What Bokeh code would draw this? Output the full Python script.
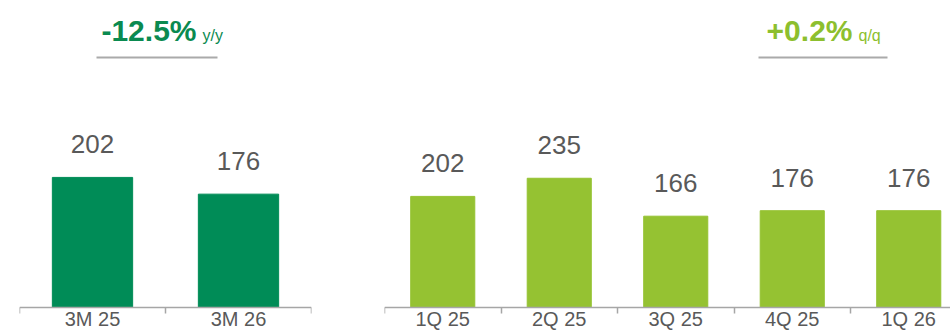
from bokeh.plotting import figure
from bokeh.layouts import row
from bokeh.models import Range1d, FixedTicker, LinearAxis, Label, BoxAnnotation, ColumnDataSource
from bokeh.embed import file_html
from bokeh.resources import INLINE
from bokeh.core.properties import value

# ---- data ----
ytd_labels = ["3M 25", "3M 26"]
ytd_values = [202, 176]
ytd_change = "-12.5%"
ytd_unit = "y/y"

q_labels = ["1Q 25", "2Q 25", "3Q 25", "4Q 25", "1Q 26"]
q_values = [202, 235, 166, 176, 176]
q_change = "+0.2%"
q_unit = "q/q"

DARK = "#008C57"
LIGHT = "#95C232"
GREY_TXT = "#595959"
AXIS_GREY = "#A6A6A6"
FONT = "Liberation Sans"
H = 332


def panel(labels, values, color, title_color, title, unit, width, bl, br, x_end,
          y_start, y_end, title_right, underline):
    n = len(labels)
    centers = [i + 0.5 for i in range(n)]
    bounds = [float(i) for i in range(n + 1)]
    p = figure(width=width, height=H, x_range=Range1d(0, x_end),
               y_range=Range1d(y_start, y_end),
               x_axis_type=None, y_axis_type=None, toolbar_location=None,
               output_backend="svg", min_border_left=bl, min_border_right=br,
               min_border_top=0, min_border_bottom=0)
    p.grid.visible = False
    p.outline_line_color = None
    p.background_fill_color = "white"
    p.border_fill_color = "white"

    ax = LinearAxis(ticker=FixedTicker(ticks=centers, minor_ticks=bounds), fixed_location=0)
    ax.major_label_overrides = {c: l for c, l in zip(centers, labels)}
    ax.major_tick_line_color = None
    ax.major_tick_out = 0
    ax.major_tick_in = 0
    ax.minor_tick_out = 6
    ax.minor_tick_in = 0
    ax.minor_tick_line_color = AXIS_GREY
    ax.minor_tick_line_width = 1.5
    ax.axis_line_color = AXIS_GREY
    ax.axis_line_width = 1.5
    ax.major_label_standoff = -6
    ax.major_label_text_font = FONT
    ax.major_label_text_font_size = "20px"
    ax.major_label_text_color = GREY_TXT
    p.add_layout(ax, "below")

    src = ColumnDataSource(dict(x=centers, top=values, label=[str(v) for v in values]))
    p.vbar(x="x", top="top", bottom=0, width=0.55, color=color, source=src)
    p.text(x="x", y="top", text="label", source=src, text_align="center",
           text_baseline="alphabetic", y_offset=-33, text_font_size="26px",
           text_color=GREY_TXT, text_font=value(FONT))

    p.add_layout(Label(x=title_right, y=302, x_units="screen", y_units="screen", text=title,
                       text_align="right", text_baseline="alphabetic", text_font=FONT,
                       text_font_size="30px", text_font_style="bold", text_color=title_color))
    p.add_layout(Label(x=title_right + 6, y=297, x_units="screen", y_units="screen", text=unit,
                       text_align="left", text_baseline="alphabetic", text_font=FONT,
                       text_font_size="16px", text_color=title_color))
    p.add_layout(BoxAnnotation(left=underline[0], right=underline[1], bottom=274, top=276,
                               left_units="screen", right_units="screen",
                               top_units="screen", bottom_units="screen",
                               fill_color="#AAAAAA", fill_alpha=1, line_color=None))
    return p


p1 = panel(ytd_labels, ytd_values, DARK, "#0A8A50", ytd_change, ytd_unit,
           width=368, bl=19, br=57, x_end=2, y_start=-25 / 0.644, y_end=307 / 0.644,
           title_right=177, underline=(77, 198))
p2 = panel(q_labels, q_values, LIGHT, "#8DBF2E", q_change, q_unit,
           width=582, bl=16, br=0, x_end=566 / 116.5, y_start=-25 / 0.55, y_end=307 / 0.55,
           title_right=468, underline=(374, 503))

layout = row(p1, p2)
open("out.html", "w").write(file_html(layout, INLINE))
